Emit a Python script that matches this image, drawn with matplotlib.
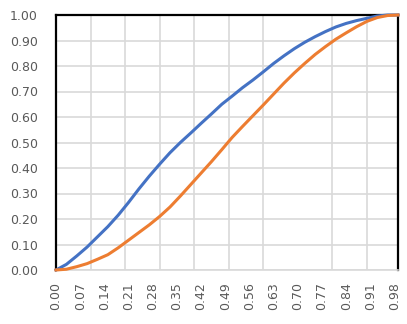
import numpy as np
import matplotlib
matplotlib.use('Agg')
import matplotlib.pyplot as plt

# x positions (share of range), read every 0.03
x = [0.00, 0.03, 0.06, 0.09, 0.12, 0.15, 0.18, 0.21, 0.24, 0.27,
     0.30, 0.33, 0.36, 0.39, 0.42, 0.45, 0.48, 0.51, 0.54, 0.57,
     0.60, 0.63, 0.66, 0.69, 0.72, 0.75, 0.78, 0.81, 0.84, 0.87,
     0.90, 0.93, 0.96, 0.99]

# blue series
blue = [0.000, 0.022, 0.055, 0.090, 0.130, 0.170, 0.215, 0.265, 0.318, 0.368,
        0.415, 0.460, 0.500, 0.537, 0.575, 0.612, 0.650, 0.682, 0.715, 0.745,
        0.777, 0.810, 0.840, 0.868, 0.893, 0.915, 0.935, 0.953, 0.967, 0.978,
        0.987, 0.996, 1.000, 1.000]

# orange series
orange = [0.000, 0.003, 0.013, 0.025, 0.042, 0.060, 0.087, 0.117, 0.147, 0.177,
          0.210, 0.247, 0.290, 0.335, 0.380, 0.425, 0.472, 0.520, 0.563, 0.605,
          0.647, 0.690, 0.733, 0.773, 0.810, 0.845, 0.876, 0.905, 0.930, 0.954,
          0.975, 0.990, 0.998, 1.000]

# tick labels
x_ticks = [0.00, 0.07, 0.14, 0.21, 0.28, 0.35, 0.42, 0.49, 0.56, 0.63,
           0.70, 0.77, 0.84, 0.91, 0.98]
y_ticks = [0.0, 0.1, 0.2, 0.3, 0.4, 0.5, 0.6, 0.7, 0.8, 0.9, 1.0]

fig = plt.figure(figsize=(4.07, 3.24), dpi=100)
ax = fig.add_axes([56 / 407, 54 / 324, 342 / 407, 255 / 324])

grid_col = '#d9d9d9'
label_col = '#595959'

ax.plot(x, blue, color='#4472C4', lw=2.2, clip_on=False, zorder=3)
ax.plot(x, orange, color='#ED7D31', lw=2.2, clip_on=False, zorder=3)

ax.set_xlim(0, 0.99)
ax.set_ylim(0, 1)

ax.set_xticks(x_ticks)
ax.set_xticklabels(['%.2f' % v for v in x_ticks], rotation=90)
ax.set_xticks([0.1, 0.2, 0.3, 0.4, 0.5, 0.6, 0.7, 0.8, 0.9], minor=True)
ax.set_yticks(y_ticks)
ax.set_yticklabels(['%.2f' % v for v in y_ticks])

ax.tick_params(axis='x', which='both', length=0, pad=8.5, labelsize=9, labelcolor=label_col)
ax.tick_params(axis='y', which='both', length=0, pad=13, labelsize=9, labelcolor=label_col)

ax.grid(False)
ax.xaxis.grid(True, which='minor', color=grid_col, lw=1.2)
ax.yaxis.grid(True, which='major', color=grid_col, lw=1.2)
ax.set_axisbelow(True)

for side in ['left', 'top', 'right']:
    ax.spines[side].set_color('black')
    ax.spines[side].set_linewidth(1.6)
ax.spines['bottom'].set_color(grid_col)
ax.spines['bottom'].set_linewidth(1.2)

plt.savefig('out.png', dpi=100)
